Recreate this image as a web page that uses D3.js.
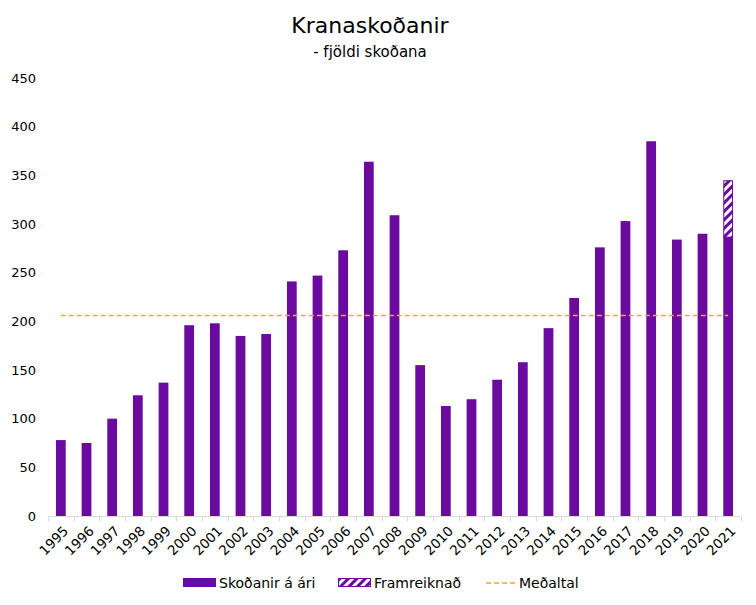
<!DOCTYPE html>
<html><head><meta charset="utf-8">
<script src="https://cdn.jsdelivr.net/npm/d3@7"></script>
<style>body{margin:0;background:#fff;} svg{display:block;font-family:"DejaVu Sans",sans-serif;}</style>
</head><body><div id="chart"></div>
<script>
const years = ["1995","1996","1997","1998","1999","2000","2001","2002","2003","2004","2005","2006","2007","2008","2009","2010","2011","2012","2013","2014","2015","2016","2017","2018","2019","2020","2021"];
const inspections = [78,75,100,124,137,196,198,185,187,241,247,273,364,309,155,113,120,140,158,193,224,276,303,385,284,290,287];
const projected = [0,0,0,0,0,0,0,0,0,0,0,0,0,0,0,0,0,0,0,0,0,0,0,0,0,0,58];
const average = 206;
const yTicks = [0,50,100,150,200,250,300,350,400,450];
const seriesNames = ["Skoðanir á ári","Framreiknað","Meðaltal"];

const W=756,H=605;
const m={left:48,right:15,top:78,bottom:89};
const svg=d3.select("#chart").append("svg").attr("width",W).attr("height",H);
const defs=svg.append("defs");
const pat=defs.append("pattern").attr("id","hatch").attr("patternUnits","userSpaceOnUse")
  .attr("width",6).attr("height",6).attr("patternTransform","rotate(45)");
pat.append("rect").attr("width",6).attr("height",6).attr("fill","#fff");
pat.append("rect").attr("width",3).attr("height",6).attr("fill","#6a0a9e");

const x=d3.scaleBand().domain(years).range([m.left,W-m.right]).paddingInner(0.62).paddingOuter(0.31);
const y=d3.scaleLinear().domain([0,450]).range([H-m.bottom,m.top]);
const purple="#6a0a9e";

svg.append("text").attr("x",370).attr("y",33).attr("text-anchor","middle").attr("font-size",22).attr("fill","#000").text("Kranaskoðanir");
svg.append("text").attr("x",370).attr("y",57).attr("text-anchor","middle").attr("font-size",15).attr("fill","#000").text("- fjöldi skoðana");

// y labels
svg.append("g").selectAll("text").data(yTicks).join("text")
  .attr("x",36).attr("y",d=>y(d)).attr("dy","0.35em").attr("text-anchor","end")
  .attr("font-size",13).attr("fill","#000").text(d=>d);

// bars
svg.append("g").selectAll("rect").data(years).join("rect")
  .attr("x",d=>x(d)).attr("width",x.bandwidth())
  .attr("y",(d,i)=>y(inspections[i])).attr("height",(d,i)=>y(0)-y(inspections[i]))
  .attr("fill",purple);
svg.append("g").selectAll("rect").data(years.filter((d,i)=>projected[i]>0)).join("rect")
  .attr("x",d=>x(d)+0.5).attr("width",x.bandwidth()-1)
  .attr("y",d=>{const i=years.indexOf(d);return y(inspections[i]+projected[i])+0.5;})
  .attr("height",d=>{const i=years.indexOf(d);return y(inspections[i])-y(inspections[i]+projected[i]);})
  .attr("fill","url(#hatch)").attr("stroke",purple).attr("stroke-width",1);

// x axis
const base=y(0)+0.5;
svg.append("line").attr("x1",m.left).attr("x2",W-m.right).attr("y1",base).attr("y2",base).attr("stroke","#d9d9d9");
const bounds=d3.range(years.length+1).map(i=>m.left+i*(W-m.left-m.right)/years.length);
svg.append("g").selectAll("line").data(bounds).join("line")
  .attr("x1",d=>Math.round(d)+0.5).attr("x2",d=>Math.round(d)+0.5).attr("y1",base).attr("y2",base+5).attr("stroke","#d9d9d9");
svg.append("g").selectAll("text").data(years).join("text")
  .attr("transform",d=>`translate(${x(d)+x.bandwidth()/2+5},${base+12}) rotate(-45)`)
  .attr("text-anchor","end").attr("dy","0.35em").attr("font-size",13.5).attr("fill","#000").text(d=>d);

// average line
svg.append("line").attr("x1",x(years[0])+x.bandwidth()/2).attr("x2",x(years[years.length-1])+x.bandwidth()/2)
  .attr("y1",y(average)).attr("y2",y(average)).attr("stroke","#f0a830").attr("stroke-width",1.6).attr("stroke-dasharray","5,3");

// legend
const lg=svg.append("g").attr("font-size",14).attr("fill","#000");
lg.append("rect").attr("x",183).attr("y",578).attr("width",33).attr("height",9).attr("fill",purple);
lg.append("text").attr("x",219).attr("y",583).attr("dy","0.35em").text(seriesNames[0]);
lg.append("rect").attr("x",338.5).attr("y",578.5).attr("width",32).attr("height",8).attr("fill","url(#hatch)").attr("stroke",purple);
lg.append("text").attr("x",374).attr("y",583).attr("dy","0.35em").text(seriesNames[1]);
lg.append("line").attr("x1",486).attr("x2",518).attr("y1",583).attr("y2",583).attr("stroke","#f0a830").attr("stroke-width",1.6).attr("stroke-dasharray","5,3");
lg.append("text").attr("x",519).attr("y",583).attr("dy","0.35em").text(seriesNames[2]);
</script></body></html>
